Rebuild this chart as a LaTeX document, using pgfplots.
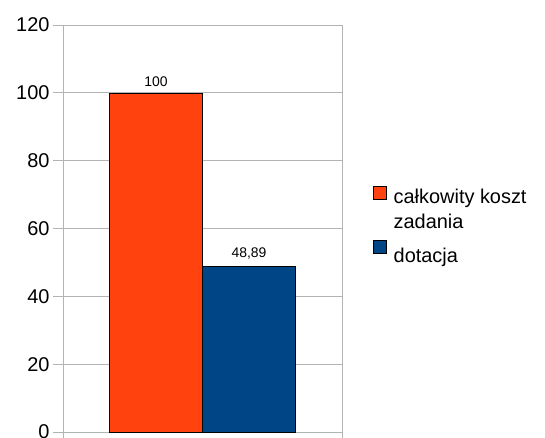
\documentclass[border=0pt]{standalone}
\usepackage{fontspec}
\setmainfont{Liberation Sans}
\usepackage{pgfplots}
\pgfplotsset{compat=1.18}
\definecolor{barorange}{HTML}{FF420E}
\definecolor{barblue}{HTML}{004586}
\definecolor{gridgray}{HTML}{B3B3B3}
\newcommand{\rowstrut}[1]{\rule[-5bp]{0pt}{#1}}
\newcommand{\legtext}[1]{\raisebox{4bp}{#1}}
\begin{document}
\begin{tikzpicture}
\begin{axis}[
  name=ax,
  scale only axis,
  width=279bp, height=407bp,
  xmin=-0.5, xmax=0.5,
  ymin=0, ymax=120,
  ytick={0,20,...,120},
  xtick={-0.5,0.5},
  xticklabels={},
  tick pos=left,
  tick align=outside,
  major tick length=10bp,
  ymajorgrids,
  grid style={gridgray, line width=0.8pt},
  axis line style={gridgray, line width=0.8pt},
  every tick/.style={gridgray, line width=0.8pt},
  ticklabel style={font=\fontsize{20}{24}\selectfont},
  /pgf/number format/assume math mode=true,
  ybar, bar shift=0pt, bar width=0.3333,
  nodes near coords,
  point meta=explicit symbolic,
  every node near coord/.append style={font=\fontsize{14}{16}\selectfont, black, yshift=3bp},
  legend style={draw=none, at={(1,0.6044)}, anchor=north west, xshift=31bp,
    inner sep=0pt, font=\fontsize{20}{24}\selectfont, row sep=1bp, column sep=5bp,
    cells={anchor=base west, inner sep=0pt}},
  legend cell align=left,
  legend image code/.code={\draw[#1, draw=black, line width=0.5pt] (0bp,0bp) rectangle (13bp,13bp);},
]
\addplot[fill=barorange, draw=black, line width=0.6pt] coordinates {(-0.16667,100) [100]};
\addlegendentry{\rowstrut{19bp}\legtext{całkowity koszt}}
\addlegendimage{empty legend}
\addlegendentry{\rowstrut{19bp}\legtext{zadania}}
\addplot[fill=barblue, draw=black, line width=0.6pt] coordinates {(0.16667,48.89) [48,89]};
\addlegendentry{\rowstrut{32bp}\legtext{dotacja}}
\end{axis}
\pgfresetboundingbox
\path[use as bounding box] ([xshift=-63bp,yshift=-6bp]ax.south west) rectangle ([xshift=203bp,yshift=25bp]ax.north east);
\end{tikzpicture}
\end{document}
